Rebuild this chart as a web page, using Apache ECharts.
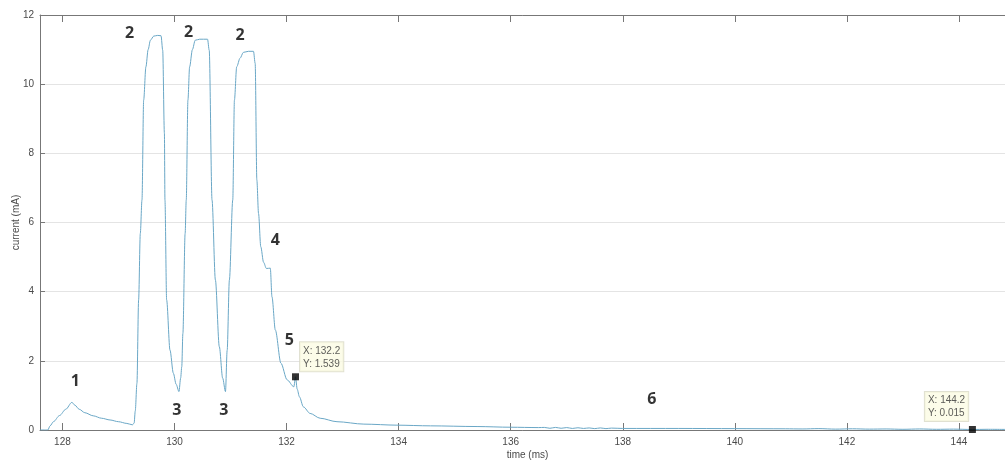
<!DOCTYPE html>
<html>
<head>
<meta charset="utf-8">
<script src="https://cdn.jsdelivr.net/npm/echarts@6/dist/echarts.min.js"></script>
<style>
html,body{margin:0;padding:0;background:#fff;}
#chart{width:1005px;height:461px;}
</style>
</head>
<body>
<div id="chart"></div>
<script>
// ---- data ----
const time = [
  127.60, 127.74, 127.78, 127.84, 127.95, 128.06, 128.17, 128.22, 128.30, 128.40,
  128.55, 128.70, 128.85, 129.00, 129.15, 129.25, 129.28, 129.30, 129.33, 129.36,
  129.39, 129.42, 129.45, 129.49, 129.53, 129.57, 129.63, 129.70, 129.76, 129.79,
  129.82, 129.83, 129.86, 129.92, 129.98, 130.03, 130.08, 130.11, 130.13, 130.15,
  130.19, 130.21, 130.24, 130.27, 130.32, 130.37, 130.45, 130.59, 130.62, 130.67,
  130.73, 130.80, 130.86, 130.91, 130.94, 130.98, 131.04, 131.07, 131.11, 131.17,
  131.23, 131.32, 131.41, 131.44, 131.47, 131.50, 131.54, 131.59, 131.64, 131.71,
  131.74, 131.80, 131.90, 132.01, 132.13, 132.16, 132.19, 132.23, 132.30, 132.42,
  132.60, 132.90, 133.38, 133.97, 134.57, 135.40, 136.00, 136.50, 136.60, 136.70,
  136.80, 136.90, 137.00, 137.10, 137.20, 137.30, 137.40, 137.50, 137.60, 137.70,
  137.80, 138.00, 139.00, 140.00, 140.90, 141.20, 141.50, 141.80, 142.10, 142.40,
  142.70, 143.00, 143.30, 143.60, 143.90, 144.24, 144.50, 145.00
];
const current = [
  0.00, 0.00, 0.12, 0.24, 0.42, 0.60, 0.80, 0.72, 0.60, 0.50,
  0.41, 0.34, 0.29, 0.24, 0.19, 0.15, 0.20, 0.55, 1.35, 3.76,
  5.68, 6.65, 9.54, 10.50, 11.00, 11.27, 11.39, 11.41, 11.40, 10.98,
  8.58, 6.65, 3.76, 2.31, 1.64, 1.32, 1.11, 1.50, 1.83, 2.79,
  5.68, 6.65, 9.54, 10.50, 11.00, 11.27, 11.30, 11.30, 10.98, 6.65,
  4.34, 2.41, 1.50, 1.11, 2.30, 4.34, 6.65, 9.54, 10.50, 10.75,
  10.92, 10.95, 10.95, 10.60, 7.23, 6.26, 5.30, 4.85, 4.67, 4.68,
  3.85, 2.89, 1.93, 1.45, 1.25, 1.539, 1.18, 0.96, 0.67, 0.48,
  0.34, 0.24, 0.17, 0.14, 0.12, 0.10, 0.08, 0.07, 0.075, 0.05,
  0.075, 0.05, 0.07, 0.045, 0.065, 0.045, 0.06, 0.04, 0.06, 0.04,
  0.055, 0.045, 0.045, 0.04, 0.035, 0.03, 0.04, 0.025, 0.035, 0.025,
  0.03, 0.02, 0.03, 0.02, 0.025, 0.015, 0.02, 0.015
];
const xTicks = [128, 130, 132, 134, 136, 138, 140, 142, 144];
const yTicks = [0, 2, 4, 6, 8, 10, 12];

// annotation numbers (data coordinates)
const noteTime    = [128.23, 129.20, 130.25, 131.17, 130.04, 130.88, 131.80, 132.05, 138.52];
const noteCurrent = [1.39, 11.47, 11.51, 11.42, 0.58, 0.58, 5.49, 2.58, 0.89];
const noteText    = ['1', '2', '2', '2', '3', '3', '4', '5', '6'];

// data tips
const tipTime    = [132.16, 144.24];
const tipCurrent = [1.539, 0.015];
const tipText    = [['X: 132.2', 'Y: 1.539'], ['X: 144.2', 'Y: 0.015']];

// ---- chart ----
const chart = echarts.init(document.getElementById('chart'), null, {renderer: 'canvas'});
const axisColor = '#777';
const labelColor = '#4a4a4a';
const font = 'Liberation Sans, Arial, sans-serif';

const tipOffsets = [[8, -31], [-44, -34]];

chart.setOption({
  animation: false,
  backgroundColor: '#ffffff',
  grid: {left: 40, top: 15, right: -10, bottom: 31, containLabel: false, outerBoundsMode: 'none'},
  xAxis: [{
    type: 'value', min: 127.60, max: 145.0,
    name: 'time (ms)', nameLocation: 'middle', nameGap: 20, nameMoveOverlap: false,
    nameTextStyle: {color: labelColor, fontSize: 10, fontFamily: font},
    axisLine: {show: true, onZero: false, lineStyle: {color: axisColor, width: 1}},
    axisTick: {show: true, inside: true, length: 7, customValues: xTicks, lineStyle: {color: axisColor}},
    axisLabel: {show: true, customValues: xTicks, margin: 7, color: labelColor, fontSize: 10, fontFamily: font},
    splitLine: {show: false}
  }, {
    type: 'value', position: 'top', min: 127.60, max: 145.0,
    axisLine: {show: true, onZero: false, lineStyle: {color: axisColor, width: 1}},
    axisTick: {show: true, inside: true, length: 7, customValues: xTicks, lineStyle: {color: axisColor}},
    axisLabel: {show: false},
    splitLine: {show: false}
  }],
  yAxis: {
    type: 'value', min: 0, max: 12, interval: 2,
    name: 'current (mA)', nameLocation: 'middle', nameGap: 19, nameRotate: 90, nameMoveOverlap: false,
    nameTextStyle: {color: labelColor, fontSize: 10, fontFamily: font},
    axisLine: {show: true, lineStyle: {color: axisColor, width: 1}},
    axisTick: {show: true, inside: true, length: 5, lineStyle: {color: axisColor}},
    axisLabel: {margin: 6, color: labelColor, fontSize: 10, fontFamily: font,
      formatter: v => yTicks.includes(v) ? String(v) : ''},
    splitLine: {show: true, lineStyle: {color: '#e4e4e4', width: 1}}
  },
  series: [{
    type: 'line', name: 'current',
    data: time.map((t, i) => [t, current[i]]),
    showSymbol: false, symbol: 'none',
    smooth: 0.3, smoothMonotone: 'x',
    lineStyle: {color: '#6aa7c6', width: 1},
    z: 3
  }, {
    type: 'scatter', name: 'notes', silent: true,
    data: noteTime.map((t, i) => ({value: [t, noteCurrent[i]], name: noteText[i]})),
    symbolSize: 0,
    label: {show: true, position: 'inside', formatter: p => p.name,
      color: '#000', fontSize: 16, fontWeight: 'bold', fontFamily: 'Open Sans, DejaVu Sans, sans-serif'},
    z: 4
  }, {
    type: 'scatter', name: 'tips', silent: true,
    data: tipTime.map((t, i) => ({
      value: [t, tipCurrent[i]],
      label: {position: tipOffsets[i]}
    })),
    symbol: 'rect', symbolSize: 7,
    itemStyle: {color: '#000'},
    label: {show: true,
      formatter: p => tipText[p.dataIndex].join('\n'),
      color: '#333', fontSize: 10, lineHeight: 13, fontFamily: font,
      backgroundColor: '#fbfbe3', borderColor: '#d9d9c6', borderWidth: 1,
      padding: [2, 3, 1, 3], align: 'left', verticalAlign: 'top'},
    z: 5
  }]
});
</script>
</body>
</html>
